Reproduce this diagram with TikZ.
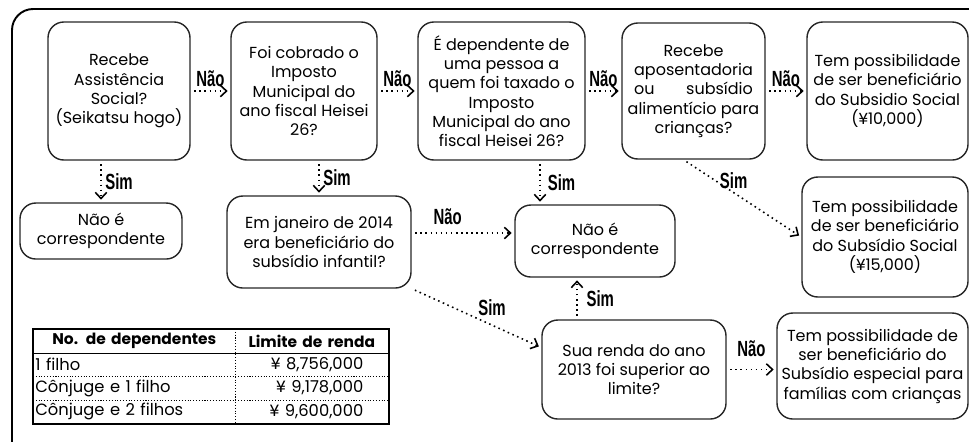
\documentclass[tikz,border=0pt]{standalone}
\usepackage{fontspec}
\usepackage{calc}
\setmainfont{Poppins}
\newfontfamily\rotulofont[FakeStretch=0.68]{Liberation Sans}
\usetikzlibrary{arrows.meta,positioning,calc,matrix}

\newcommand{\caixafonte}{\fontsize{9.1}{11}\selectfont}
\newcommand{\tabelafonte}{\fontsize{9.3}{10}\selectfont}
\newcommand{\cabecafonte}{\fontsize{8.8}{10}\selectfont\bfseries}

\begin{document}
\begin{tikzpicture}[x=0.02cm, y=-0.02cm,
    caixa/.style 2 args={draw=black!85, line width=0.8pt, rounded corners=9pt, align=center,
        minimum width=#1*0.02cm, minimum height=#2*0.02cm, inner sep=0pt, font=\caixafonte},
    seta/.style={dotted, line width=0.9pt, -{Straight Barb[length=3.5pt,width=6.5pt]},
        shorten <=2pt, shorten >=1.5pt},
    rotulo/.style={font=\rotulofont\bfseries\fontsize{12.5}{12.5}\selectfont, inner sep=2pt}]
    \useasboundingbox (0,0) rectangle (969,441);
    \clip (0,0) rectangle (969,441);
    \draw[line width=1.1pt, rounded corners=12pt] (12,9) rectangle (995,470);

    \node[caixa={142}{138}] (assist) at (119,91) {Recebe\\Assistência\\Social?\\(Seikatsu hogo)};
    \node[caixa={146}{138}] (imposto) at (304,91) {Foi cobrado o\\Imposto\\Municipal do\\ano fiscal Heisei\\26?};
    \node[caixa={167}{138}] (dependente) at (501.5,91) {É dependente de\\uma pessoa a\\quem foi taxado o\\Imposto\\Municipal do ano\\fiscal Heisei 26?};
    \node[caixa={143}{136}] (aposent) at (693.5,91) {Recebe\\aposentadoria\\\makebox[\widthof{aposentadoria}]{ou\hfill subsídio}\\alimentício para\\crianças?};
    \node[caixa={161}{138}] (social1) at (887.5,91) {Tem possibilidade\\de ser beneficiário\\do Subsidio Social\\(¥10,000)};
    \node[caixa={162}{56}] (naocorr1) at (101,231) {Não é\\correspondente};
    \node[caixa={184}{92}] (janeiro) at (319,242) {Em janeiro de 2014\\era beneficiário do\\subsídio infantil?};
    \node[caixa={160}{72}] (naocorr2) at (595,241) {Não é\\correspondente};
    \node[caixa={166}{120}] (social2) at (885,237) {Tem possibilidade\\de ser beneficiário\\do Subsídio Social\\(¥15,000)};
    \node[caixa={184}{99}] (renda) at (634,369.5) {Sua renda do ano\\2013 foi superior ao\\limite?};
    \node[caixa={191}{106}] (especial) at (872.5,366) {Tem possibilidade de\\ser beneficiário do\\Subsídio especial para\\famílias com crianças};

    \draw[seta] (assist) -- node[rotulo, above] {Não} (imposto);
    \draw[seta] (imposto) -- node[rotulo, above] {Não} (dependente);
    \draw[seta] (dependente) -- node[rotulo, above] {Não} (aposent);
    \draw[seta] (aposent) -- node[rotulo, above] {Não} (social1);

    \draw[seta] (assist.south -| naocorr1.north) -- node[rotulo, right] {Sim} (naocorr1.north);
    \draw[seta] (imposto.south -| janeiro.north) -- node[rotulo, right] {Sim} (janeiro.north);
    \draw[seta] ([xshift=-1.1cm]naocorr2.north |- dependente.south) -- node[rotulo, right=2pt] {Sim} ([xshift=-1.1cm]naocorr2.north);
    \draw[seta] ([xshift=-0.2cm]aposent.south) -- node[rotulo, midway, above=3pt, xshift=-5pt] {Sim} (social2.west);
    \draw[seta] ([yshift=0.18cm]janeiro.east) -- node[rotulo, pos=0.35, above=2pt] {Não} ([yshift=0.18cm]janeiro.east -| naocorr2.west);
    \draw[seta] (janeiro.south east) -- node[rotulo, pos=0.62, above=3pt] {Sim} ([yshift=0.44cm]renda.west);
    \draw[seta] ([xshift=-0.36cm]naocorr2.south |- renda.north) -- node[rotulo, right=3pt] {Sim} ([xshift=-0.36cm]naocorr2.south);
    \draw[seta] (renda.east) -- node[rotulo, above=5pt] {Não} (renda.east -| especial.west);

    \matrix (limite) [matrix of nodes, anchor=north west, inner sep=0pt,
        nodes={anchor=center, minimum height=0.47cm, inner ysep=0pt, font=\tabelafonte},
        column 1/.style={nodes={text width=3.96cm, inner xsep=0.04cm, align=left}},
        column 2/.style={nodes={text width=2.06cm, inner xsep=0.5cm, align=right}},
        row 1/.style={nodes={font=\cabecafonte, align=center}},
        row 1 column 2/.style={nodes={text width=2.9cm, inner xsep=0.08cm}}] at (33,329) {
        No. de dependentes & Limite de renda \\
        1 filho & ¥ 8,756,000 \\
        Cônjuge e 1 filho & ¥ 9,178,000 \\
        Cônjuge e 2 filhos & ¥ 9,600,000 \\
    };
    \draw[line width=1.2pt] (limite-1-1.north west) rectangle (limite-4-2.south east);
    \draw[line width=0.6pt] (limite-1-1.south west) -- (limite-1-2.south east);
    \draw[densely dotted, line width=0.6pt] (limite-1-1.north east) -- (limite-4-1.south east);
    \foreach \r in {2,3}
        \draw[densely dotted, line width=0.6pt] (limite-\r-1.south west) -- (limite-\r-2.south east);
\end{tikzpicture}
\end{document}
